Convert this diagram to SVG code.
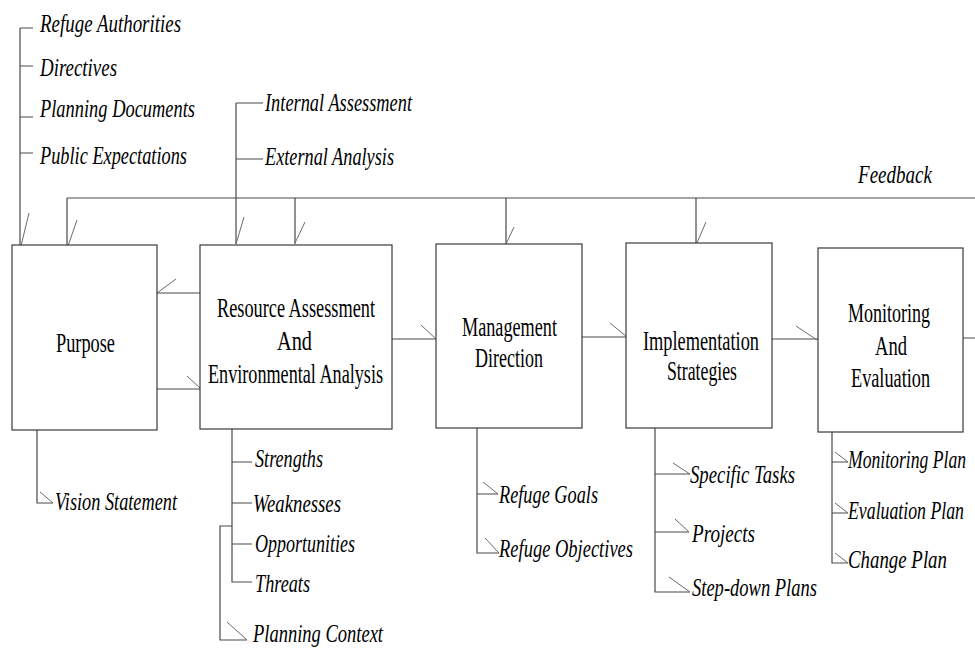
<svg xmlns="http://www.w3.org/2000/svg" width="975" height="658" viewBox="0 0 975 658">
<style>
.bx{fill:#fff;stroke:#3a3a3a;stroke-width:1.2}
.ln{fill:none;stroke:#4a4a4a;stroke-width:1.2}
.tk{fill:none;stroke:#6a6a6a;stroke-width:1}
.bt{font-family:"Liberation Serif","Times New Roman",serif;font-size:28px;fill:#000;text-anchor:middle}
.it{font-family:"Liberation Serif","Times New Roman",serif;font-style:italic;font-size:26px;fill:#000}
</style>
<rect width="975" height="658" fill="#fff"/>
<g id="connectors">
<path class="ln" d="M20,28V246M20,28H33M20,66H33M20,117H33M20,153H33"/>
<path class="tk" d="M29,213L21,246"/>
<path class="ln" d="M236,103V244M236,103H263M236,159H263"/>
<path class="tk" d="M244,217L236,244"/>
<path class="ln" d="M67,198H975M67,198V245M295,198V244M506,198V244M696,198V243"/>
<path class="tk" d="M77,220L68,246M305,222L295,243M514,227L506,244M706,222L696,245"/>
<path class="ln" d="M157,293H200M157,389H200M392,339H436M582,337H626M772,339H818M963,338H975"/>
<path class="tk" d="M176,279L157,293M187,376L200,388M421,325L436,339M610,323L627,337M796,326L817,340"/>
<path class="ln" d="M37,430V503H53"/>
<path class="tk" d="M40,492L53,503"/>
<path class="ln" d="M232,429V582H252M232,462H252M232,503H252M232,544H252M232,526H220V640H247"/>
<path class="tk" d="M227,622L247,640"/>
<path class="ln" d="M477,428V553H499M477,494H498"/>
<path class="tk" d="M483,482L498,494M485,538L499,553"/>
<path class="ln" d="M655,428V592H690M655,474H690M655,532H689"/>
<path class="tk" d="M673,463L690,474M675,519L689,532M669,577L690,592"/>
<path class="ln" d="M832,432V563H848M832,462H848M832,513H848"/>
<path class="tk" d="M835,452L848,462M835,503L848,513M835,553L848,563"/>
</g>
<g id="purpose">
<rect class="bx" x="12" y="245" width="145" height="185"/>
<text class="bt" x="85.5" y="352" textLength="59" lengthAdjust="spacingAndGlyphs">Purpose</text>
</g>
<g id="resource">
<rect class="bx" x="200" y="245" width="192" height="184"/>
<text class="bt" x="296" y="317" textLength="158" lengthAdjust="spacingAndGlyphs">Resource Assessment</text>
<text class="bt" x="294.5" y="350" textLength="35" lengthAdjust="spacingAndGlyphs">And</text>
<text class="bt" x="295.5" y="383" textLength="175" lengthAdjust="spacingAndGlyphs">Environmental Analysis</text>
</g>
<g id="management">
<rect class="bx" x="436" y="244" width="146" height="184"/>
<text class="bt" x="509.5" y="336" textLength="95" lengthAdjust="spacingAndGlyphs">Management</text>
<text class="bt" x="509" y="367" textLength="68" lengthAdjust="spacingAndGlyphs">Direction</text>
</g>
<g id="implementation">
<rect class="bx" x="626" y="243" width="146" height="185"/>
<text class="bt" x="701" y="350" textLength="116" lengthAdjust="spacingAndGlyphs">Implementation</text>
<text class="bt" x="702" y="380" textLength="70" lengthAdjust="spacingAndGlyphs">Strategies</text>
</g>
<g id="monitoring">
<rect class="bx" x="818" y="248" width="145" height="184"/>
<text class="bt" x="889" y="322" textLength="82" lengthAdjust="spacingAndGlyphs">Monitoring</text>
<text class="bt" x="891" y="355" textLength="32" lengthAdjust="spacingAndGlyphs">And</text>
<text class="bt" x="890.5" y="387" textLength="79" lengthAdjust="spacingAndGlyphs">Evaluation</text>
</g>
<g id="labels">
<text class="it" x="40" y="32" textLength="141" lengthAdjust="spacingAndGlyphs">Refuge Authorities</text>
<text class="it" x="40" y="76" textLength="77" lengthAdjust="spacingAndGlyphs">Directives</text>
<text class="it" x="40" y="117" textLength="155" lengthAdjust="spacingAndGlyphs">Planning Documents</text>
<text class="it" x="40" y="164" textLength="147" lengthAdjust="spacingAndGlyphs">Public Expectations</text>
<text class="it" x="265" y="111" textLength="147" lengthAdjust="spacingAndGlyphs">Internal Assessment</text>
<text class="it" x="265" y="165" textLength="129" lengthAdjust="spacingAndGlyphs">External Analysis</text>
<text class="it" x="858" y="183" textLength="74" lengthAdjust="spacingAndGlyphs">Feedback</text>
<text class="it" x="55" y="510" textLength="122" lengthAdjust="spacingAndGlyphs">Vision Statement</text>
<text class="it" x="255" y="467" textLength="68" lengthAdjust="spacingAndGlyphs">Strengths</text>
<text class="it" x="253" y="512" textLength="88" lengthAdjust="spacingAndGlyphs">Weaknesses</text>
<text class="it" x="255" y="552" textLength="100" lengthAdjust="spacingAndGlyphs">Opportunities</text>
<text class="it" x="255" y="592" textLength="55" lengthAdjust="spacingAndGlyphs">Threats</text>
<text class="it" x="253" y="642" textLength="130" lengthAdjust="spacingAndGlyphs">Planning Context</text>
<text class="it" x="499" y="503" textLength="99" lengthAdjust="spacingAndGlyphs">Refuge Goals</text>
<text class="it" x="499" y="557" textLength="134" lengthAdjust="spacingAndGlyphs">Refuge Objectives</text>
<text class="it" x="690" y="483" textLength="105" lengthAdjust="spacingAndGlyphs">Specific Tasks</text>
<text class="it" x="692" y="542" textLength="63" lengthAdjust="spacingAndGlyphs">Projects</text>
<text class="it" x="692" y="596" textLength="125" lengthAdjust="spacingAndGlyphs">Step-down Plans</text>
<text class="it" transform="translate(848,468) scale(0.7,1)" x="0" y="0" textLength="168.6" lengthAdjust="spacingAndGlyphs">Monitoring Plan</text>
<text class="it" transform="translate(848,519) scale(0.7,1)" x="0" y="0" textLength="165.7" lengthAdjust="spacingAndGlyphs">Evaluation Plan</text>
<text class="it" transform="translate(848,568) scale(0.7,1)" x="0" y="0" textLength="141.4" lengthAdjust="spacingAndGlyphs">Change Plan</text>
</g>
</svg>
